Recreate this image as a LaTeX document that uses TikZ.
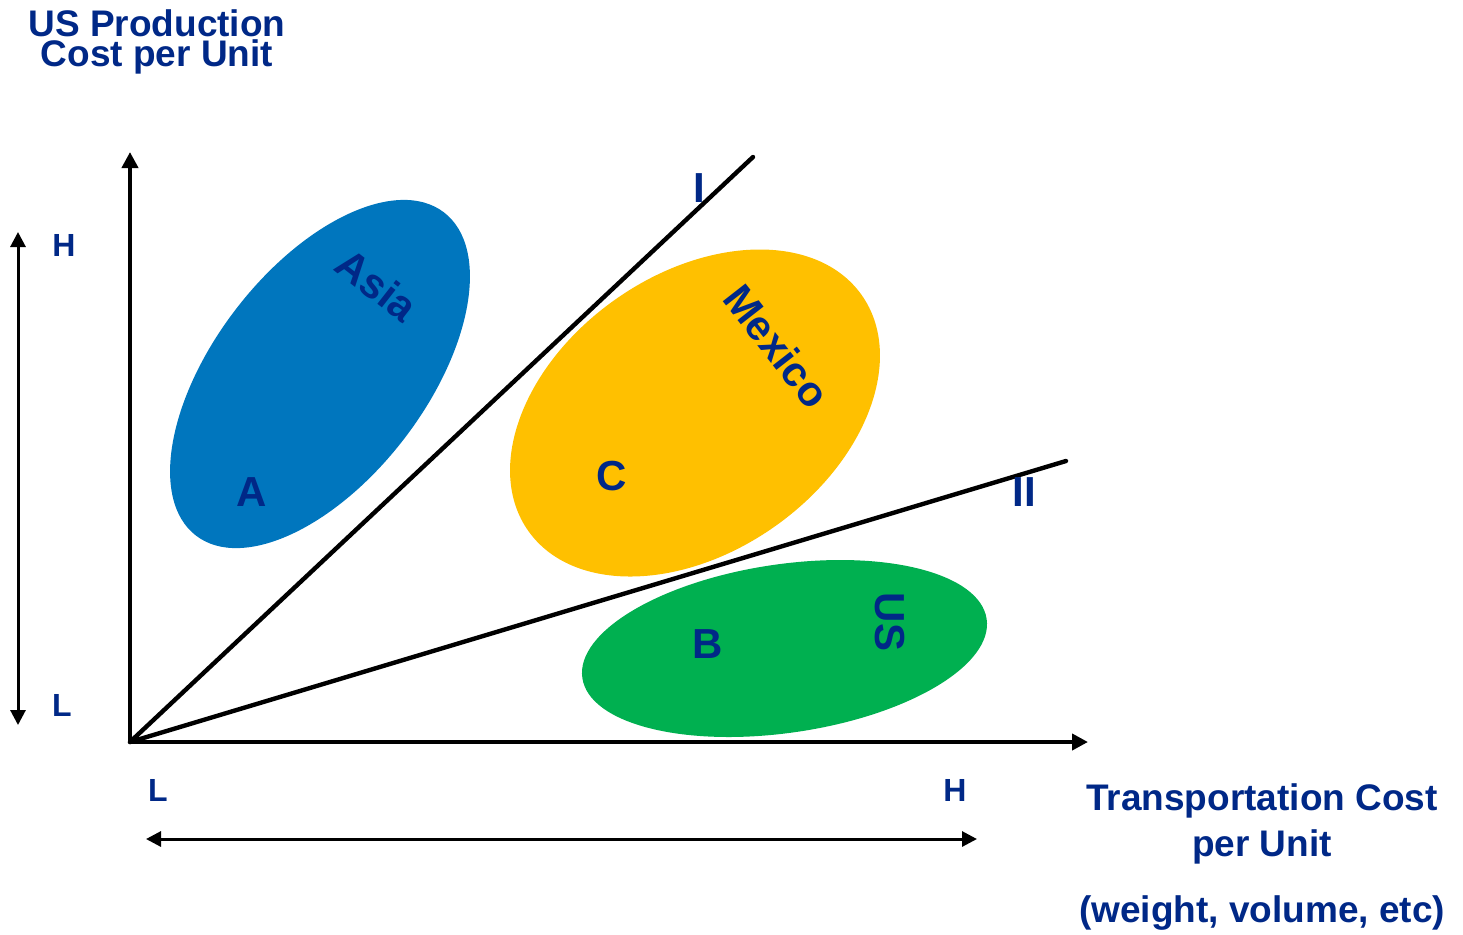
\documentclass[tikz,border=0pt]{standalone}
\usepackage{fontspec}
\setmainfont{Liberation Sans}
\usetikzlibrary{arrows.meta,shapes.geometric}
\definecolor{navy}{RGB}{0,40,135}
\definecolor{asiablue}{RGB}{0,118,190}
\definecolor{mexyellow}{RGB}{255,192,0}
\definecolor{usgreen}{RGB}{0,176,80}
\tikzset{
  lbl/.style={text=navy, font=\bfseries\fontsize{16}{16}\selectfont, inner sep=0pt},
  biglbl/.style={text=navy, font=\bfseries\fontsize{21}{21}\selectfont, inner sep=0pt},
  region/.style={text=navy, font=\bfseries\fontsize{21}{21}\selectfont, inner sep=0pt},
  titlelbl/.style={text=navy, font=\bfseries\fontsize{18.5}{15}\selectfont, align=center, inner sep=0pt},
  blob/.style={ellipse, draw=none, inner sep=0pt},
  axis/.style={line width=2.2pt, -{Triangle[length=8pt,width=8pt]}},
  dbl/.style={line width=1.5pt, {Triangle[length=7.5pt,width=7.5pt]}-{Triangle[length=7.5pt,width=7.5pt]}},
  ray/.style={line width=2.2pt, line cap=round}
}
\begin{document}
\begin{tikzpicture}[x=0.5pt,y=-0.5pt]
\useasboundingbox (0,0) rectangle (1463,934);
% regions
\node[blob, fill=asiablue, minimum width=203.7pt, minimum height=106.2pt, rotate=52.5] (asia) at (320,374) {};
\node[blob, fill=mexyellow, minimum width=204.2pt, minimum height=138.7pt, rotate=35.3] (mex) at (695,413) {};
\node[blob, fill=usgreen, minimum width=204.3pt, minimum height=84.3pt, rotate=8.3] (usb) at (784.5,648.5) {};
% axes
\coordinate (O) at (130,742);
\coordinate (ytop) at (130,152);
\coordinate (xend) at (1088,742);
\coordinate (Iend) at (753,157);
\coordinate (IIend) at (1066,461);
\draw[ray] (O) -- (Iend);
\draw[ray] (O) -- (IIend);
\draw[axis] (O) -- (ytop);
\draw[axis] (O) -- (xend);
% double arrows
\coordinate (vt) at (18,232);
\coordinate (vb) at (18,725);
\coordinate (hl) at (146,839);
\coordinate (hr) at (977,839);
\draw[dbl] (vb) -- (vt);
\draw[dbl] (hl) -- (hr);
% labels
\node[titlelbl] (ytitle) at (157,42) {US Production\\Cost per Unit};
\node[lbl] (yH) at (64,245) {H};
\node[lbl] (yL) at (62,705) {L};
\node[lbl] (xL) at (158,790) {L};
\node[lbl] (xH) at (955,790) {H};
\node[titlelbl] (xt1) at (1262,801) {Transportation Cost};
\node[titlelbl] (xt2) at (1262,847) {per Unit};
\node[titlelbl] (xt3) at (1262,913) {(weight, volume, etc)};
\node[biglbl] (lI) at (699,188) {I};
\node[biglbl] (lII) at (1024,492) {II};
\node[biglbl] (lA) at (252,492) {A};
\node[biglbl] (lC) at (612,476) {C};
\node[biglbl] (lB) at (708,644) {B};
\node[region, rotate=-38] (tasia) at (377,285) {Asia};
\node[region, rotate=-52] (tmex) at (777,346) {Mexico};
\node[region, rotate=-90] (tus) at (890,622) {US};
\end{tikzpicture}
\end{document}
